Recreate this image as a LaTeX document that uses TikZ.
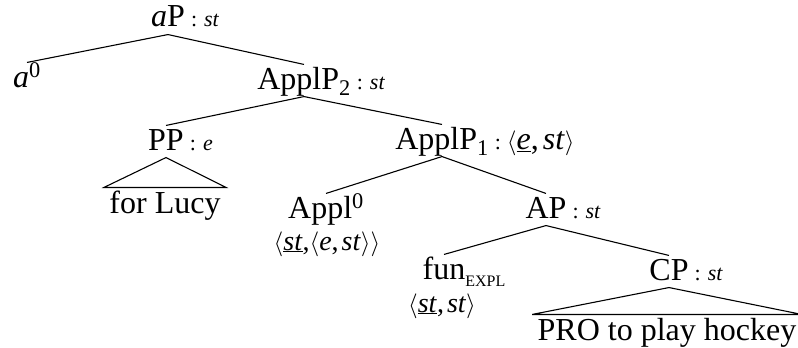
\documentclass[tikz,border=0pt]{standalone}
\usepackage{fontspec}
\setmainfont{Liberation Serif}
\begin{document}
\begin{tikzpicture}[x=1pt, y=-1pt, line width=1.1pt,
    font=\fontsize{32}{38}\selectfont,
    cat/.style={anchor=base, inner sep=1pt, text height=23pt, text depth=6pt},
    tp/.style={anchor=base west, inner sep=0pt, font=\fontsize{22}{26}\selectfont},
    sem/.style={anchor=base, inner sep=0pt, font=\fontsize{28}{32}\selectfont},
    leaf/.style={anchor=base, inner xsep=5pt, inner ysep=1pt, text height=24pt, text depth=7pt}]
    \useasboundingbox (0,0) rectangle (798,348);

    % Category labels
    \node[cat] (aP) at (168,27) {\textit{a}P};
    \node[cat] (a0) at (27,87) {\textit{a}\textsuperscript{0}};
    \node[cat] (ap2) at (304,89) {ApplP\textsubscript{2}};
    \node[cat] (pp) at (166,150) {PP};
    \node[cat] (ap1) at (442,149) {ApplP\textsubscript{1}};
    \node[cat] (appl) at (326,218) {Appl\textsuperscript{0}};
    \node[cat] (AP) at (546,218) {AP};
    \node[cat] (fun) at (444,279) {fun\rlap{\raisebox{-7pt}{\fontsize{16}{16}\selectfont EXPL}}};
    \node[cat] (cp) at (669,280) {CP};

    % Types (small, right of the label)
    \node[tp] (aPtype) at (aP.base east) {\hspace{4pt}:\hspace{7pt}\textit{st}};
    \node[tp] (ap2type) at (ap2.base east) {\hspace{4pt}:\hspace{7pt}\textit{st}};
    \node[tp] (pptype) at (pp.base east) {\hspace{4pt}:\hspace{7pt}\textit{e}};
    \node[tp] (APtype) at (AP.base east) {\hspace{4pt}:\hspace{7pt}\textit{st}};
    \node[tp] (cptype) at (cp.base east) {\hspace{4pt}:\hspace{7pt}\textit{st}};
    \node[anchor=base west, inner sep=0pt] (ap1type) at (ap1.base east)
        {\hspace{4pt}{\fontsize{22}{26}\selectfont :}\hspace{6pt}$\langle$\underline{\textit{e}},\hspace{4pt}\textit{st}$\rangle$};

    % Types (below the head)
    \node[sem] (appltype) at (327,250) {$\langle$\underline{\textit{st}},$\langle$\textit{e},\hspace{3pt}\textit{st}$\rangle\rangle$};
    \node[sem] (funtype) at (442,312) {$\langle$\underline{\textit{st}},\hspace{3pt}\textit{st}$\rangle$};

    % Leaves under triangles
    \node[leaf] (lucy) at (165,213) {for Lucy};
    \node[leaf] (hockey) at (667,340) {PRO to play hockey};

    % Branches
    \foreach \p/\c in {aP/a0, aP/ap2, ap2/pp, ap2/ap1, ap1/appl, ap1/AP, AP/fun, AP/cp} {
        \draw (\p.south) -- (\c.north);
    }

    % Triangles
    \foreach \p/\c in {pp/lucy, cp/hockey} {
        \draw (\p.south) -- (\c.north west) -- (\c.north east) -- cycle;
    }
\end{tikzpicture}
\end{document}
